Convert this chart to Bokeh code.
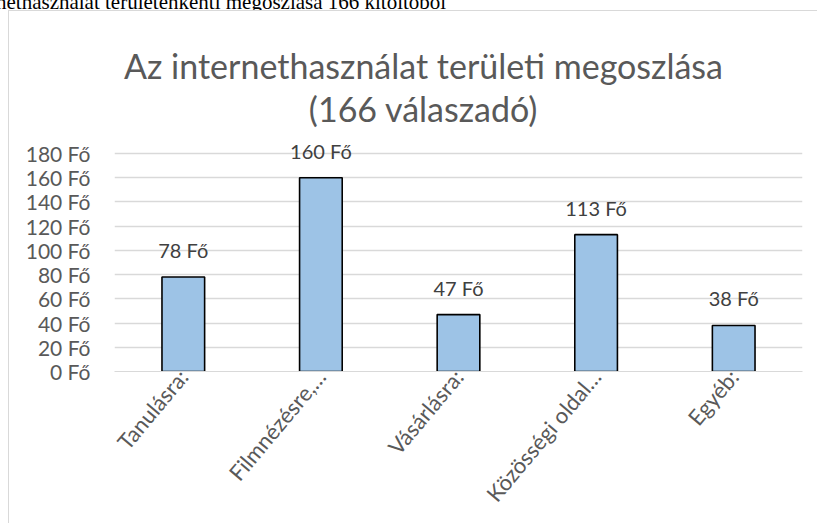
import math
from bokeh.plotting import figure
from bokeh.layouts import column
from bokeh.models import (ColumnDataSource, FactorRange, Range1d, FixedTicker,
                          LabelSet, Label, CustomJSTickFormatter, Div)
from bokeh.core.properties import value
from bokeh.embed import file_html
from bokeh.resources import INLINE

# ---- data ----
categories = ["Tanulásra:", "Filmnézésre,…", "Vásárlásra:", "Közösségi oldal…", "Egyéb:"]
values = [78, 160, 47, 113, 38]
y_ticks = [0, 20, 40, 60, 80, 100, 120, 140, 160, 180]
unit = "Fő"
title_line1 = "Az internethasználat területi megoszlása"
title_line2 = "(166 válaszadó)"
doc_caption = "nethasználat területenkénti megoszlása 166 kitöltőből"

FONT = "Lato"
GREY = "#595959"

# chart box sits 9px from the left and 11px from the top of the page
OX, OY = 9, 11
W, H = 818 - OX, 524 - OY
FL, FR = 114 - OX, 802 - OX         # frame left/right in canvas px
FB = 371 - OY                       # frame bottom (0 line)
AXIS_TOP_PX = 153 - OY              # 180 gridline
y_max = max(y_ticks)
y_top = y_max * FB / (FB - AXIS_TOP_PX)   # frame reaches the canvas top

src = ColumnDataSource(dict(cat=categories, val=values,
                            lab=[f"{v} {unit}" for v in values]))

p = figure(width=W, height=H, x_range=FactorRange(*categories),
           y_range=Range1d(0, y_top), output_backend="svg", toolbar_location=None,
           title=None,
           min_border_left=FL, min_border_right=W - FR,
           min_border_top=0, min_border_bottom=H - FB)
p.x_range.range_padding = 0
p.outline_line_color = None
p.background_fill_color = "white"
p.border_fill_color = "white"
p.margin = (0, 0, 0, OX)
p.styles = {"box-shadow": "-1px -1px 0 0 #D9D9D9"}

p.vbar(x="cat", top="val", width=0.31, source=src,
       fill_color="#9DC3E6", line_color="black", line_width=1.6)

# y axis
p.yaxis.ticker = FixedTicker(ticks=y_ticks)
p.yaxis.formatter = CustomJSTickFormatter(code=f"return tick + ' {unit}';")
p.yaxis.axis_line_color = None
p.yaxis.major_tick_line_color = None
p.yaxis.minor_tick_line_color = None
p.yaxis.major_tick_out = 0
p.yaxis.major_label_standoff = 24
p.yaxis.major_label_text_font = FONT
p.yaxis.major_label_text_font_size = "21px"
p.yaxis.major_label_text_color = GREY

# x axis
p.xaxis.axis_line_color = "#D9D9D9"
p.xaxis.major_tick_line_color = None
p.xaxis.minor_tick_line_color = None
p.xaxis.major_tick_out = 0
p.xaxis.major_label_orientation = math.radians(50)
p.xaxis.major_label_standoff = 1
p.xaxis.major_label_text_font = FONT
p.xaxis.major_label_text_font_size = "22px"
p.xaxis.major_label_text_color = GREY

p.xgrid.grid_line_color = None
p.ygrid.grid_line_color = "#D9D9D9"
p.ygrid.grid_line_width = 1.3
p.ygrid.ticker = FixedTicker(ticks=y_ticks)

labels = LabelSet(x="cat", y="val", text="lab", source=src, y_offset=19,
                  text_align="center", text_baseline="alphabetic",
                  text_font=value(FONT), text_font_size=value("20px"),
                  text_color=value("#404040"))
p.add_layout(labels)

def fx(px):
    return px - OX - FL

def fy(py):
    return FB - (py - OY)

# titles (inside the frame, which reaches the canvas top)
for txt, base in ((title_line1, 65), (title_line2, 108)):
    p.add_layout(Label(x=fx(423), y=fy(base), x_units="screen", y_units="screen",
                       text=txt, text_align="center", text_baseline="alphabetic",
                       text_font=FONT, text_font_size="34px", text_color=GREY))

# cut-off document caption above the chart box
cap = Div(text=("<div style=\"font-family:'Liberation Serif',serif;font-size:21px;"
                "line-height:21px;white-space:nowrap;margin:-18px 0 0 -4px;"
                "position:relative;top:-3px;"
                f"color:black\">{doc_caption}</div>"),
          width=818, height=OY, margin=(0, 0, 0, 0),
          styles={"overflow": "hidden"})

layout = column(cap, p, spacing=0, margin=(0, 0, 0, 0))
open("out.html", "w").write(file_html(layout, INLINE))
